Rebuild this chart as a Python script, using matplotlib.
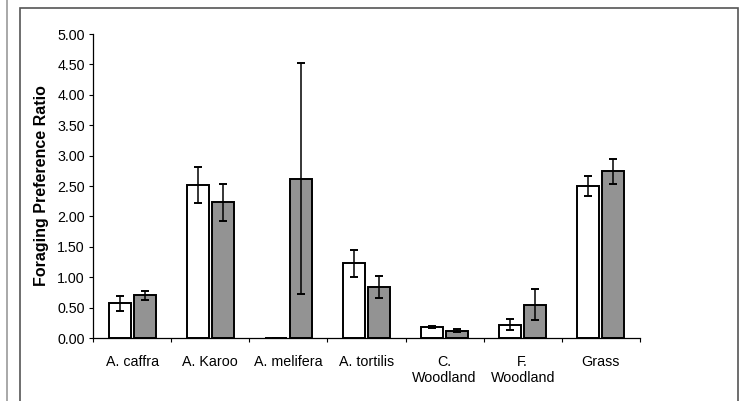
import numpy as np
import matplotlib
matplotlib.use("Agg")
from matplotlib import pyplot as plt
from matplotlib.patches import Rectangle
from matplotlib.lines import Line2D

plt.rcParams['font.family'] = ['Liberation Sans', 'DejaVu Sans']

categories = ['A. caffra', 'A. Karoo', 'A. melifera', 'A. tortilis',
              'C.\nWoodland', 'F.\nWoodland', 'Grass']
white_vals = [0.57, 2.52, 0.0, 1.23, 0.18, 0.22, 2.50]
white_err = [0.12, 0.30, 0.0, 0.22, 0.02, 0.09, 0.16]
grey_vals = [0.70, 2.23, 2.62, 0.84, 0.12, 0.55, 2.74]
grey_err = [0.07, 0.31, 1.90, 0.18, 0.02, 0.26, 0.20]

fig = plt.figure(figsize=(7.41, 4.01), dpi=100)
ax = fig.add_axes([93 / 741, 1 - 338 / 401, 547 / 741, 304 / 401])

x = np.arange(len(categories))
w = 0.28
gap = 0.02
ax.bar(x - w / 2 - gap, white_vals, w, color='white', edgecolor='black', linewidth=1.4,
       yerr=white_err, error_kw=dict(ecolor='black', elinewidth=1.1, capsize=3, capthick=1.4))
ax.bar(x + w / 2 + gap, grey_vals, w, color='#939393', edgecolor='black', linewidth=1.4,
       yerr=grey_err, error_kw=dict(ecolor='black', elinewidth=1.1, capsize=3, capthick=1.4))

ax.set_xlim(-0.5, len(categories) - 0.5)
ax.set_ylim(0, 5)
ax.set_yticks(np.arange(0, 5.01, 0.5))
ax.set_yticklabels(['%.2f' % v for v in np.arange(0, 5.01, 0.5)], fontsize=10.3)
ax.set_xticks(x)
ax.set_xticklabels(categories, fontsize=10.3)
ax.tick_params(axis='x', length=0, pad=12)
ax.tick_params(axis='y', length=3, width=0.8, pad=3)
# small ticks between the categories
ax.set_xticks(np.arange(-0.5, len(categories)), minor=True)
ax.tick_params(axis='x', which='minor', length=3, width=0.8)
for s in ['top', 'right']:
    ax.spines[s].set_visible(False)
ax.spines['left'].set_linewidth(0.9)
ax.spines['bottom'].set_linewidth(0.9)
ax.set_ylabel('Foraging Preference Ratio', fontsize=11.5, fontweight='bold', labelpad=6)

# outer frame like the scanned figure
fig.patches.append(Rectangle((20 / 741, -0.02), 718 / 741, 1 - 8 / 401 + 0.02,
                             transform=fig.transFigure, fill=False,
                             edgecolor='#555555', linewidth=1.2))
fig.lines.append(Line2D([7 / 741, 7 / 741], [0, 1], transform=fig.transFigure,
                        color='#999999', linewidth=1.2))

fig.savefig('out.png', dpi=100)
